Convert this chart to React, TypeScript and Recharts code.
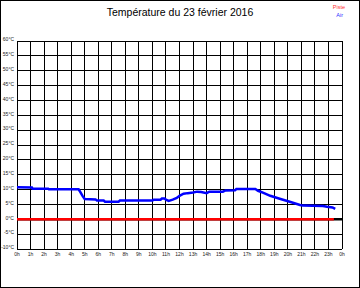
import { LineChart, Line, XAxis, YAxis, CartesianGrid, ReferenceLine, Legend } from 'recharts';

// heures (0-24) et température de l'air en °C
const airHours = [
    0, 1.1, 1.15, 2.3, 2.35, 4.55, 4.7, 4.85, 5.0, 5.8, 5.9, 6.4, 6.5, 7.5, 7.6, 10.0, 10.1, 10.6, 10.7, 10.9,
    11.0, 11.2, 11.5, 11.8, 12.0, 12.3, 12.6, 13.0, 13.3, 13.6, 14.0, 14.2, 15.2, 15.4, 16.1, 16.2, 17.6, 17.8,
    18.2, 18.7, 19.4, 20.2, 20.9, 21.1, 22.6, 22.9, 23.3, 23.5,
];
const airTemps = [
    10.8, 10.7, 10.3, 10.3, 10.1, 10.1, 9.0, 7.8, 6.8, 6.7, 6.35, 6.3, 5.9, 5.9, 6.3, 6.3, 6.6, 6.6, 7.0, 7.0,
    6.6, 6.2, 6.6, 7.2, 7.9, 8.6, 8.8, 9.0, 9.3, 9.2, 8.8, 9.3, 9.3, 9.7, 9.8, 10.2, 10.2, 9.6,
    8.9, 7.9, 6.9, 5.8, 4.8, 4.6, 4.5, 4.2, 4.0, 3.5,
];

// température de la piste
const pisteHours = [0, 23.4];
const pisteTemps = [0, 0];

const hourTicks = [0, 1, 2, 3, 4, 5, 6, 7, 8, 9, 10, 11, 12, 13, 14, 15, 16, 17, 18, 19, 20, 21, 22, 23, 24];
const tempTicks = [-10, -5, 0, 5, 10, 15, 20, 25, 30, 35, 40, 45, 50, 55, 60];

const airData = airHours.map((h, i) => ({ h, t: airTemps[i] }));
const pisteData = pisteHours.map((h, i) => ({ h, t: pisteTemps[i] }));

const font = '"Liberation Sans", Arial, sans-serif';

function LegendBox() {
    return (
        <div style={{ fontFamily: font, fontSize: 5.5, lineHeight: '8px', textAlign: 'right' }}>
            <div style={{ color: '#ff3030' }}>Piste</div>
            <div style={{ color: '#3030ff', paddingRight: 2 }}>Air</div>
        </div>
    );
}

export default function App() {
    return (
        <div style={{ position: 'absolute', left: 0, top: 0, width: 360, height: 288, background: '#fff' }}>
            <style>{'.recharts-cartesian-grid line { shape-rendering: crispEdges; }'}</style>
            <div
                style={{
                    position: 'absolute',
                    left: 0,
                    top: 6,
                    width: 360,
                    textAlign: 'center',
                    fontFamily: font,
                    fontSize: 10.5,
                    color: '#000',
                }}
            >
                Température du 23 février 2016
            </div>
            <LineChart width={360} height={288} margin={{ top: 25, right: 18, left: 0, bottom: 0 }}>
                <CartesianGrid stroke="#000" strokeWidth={1} />
                <XAxis
                    type="number"
                    dataKey="h"
                    domain={[0, 24]}
                    ticks={hourTicks}
                    interval={0}
                    height={39}
                    axisLine={false}
                    tickLine={false}
                    tickSize={0}
                    tickMargin={3}
                    tickFormatter={(v: number) => `${v % 24}h`}
                    tick={{ fill: '#222', fontSize: 5, fontFamily: font }}
                />
                <YAxis
                    type="number"
                    domain={[-10, 60]}
                    ticks={tempTicks}
                    interval={0}
                    width={17}
                    axisLine={false}
                    tickLine={false}
                    tickSize={0}
                    tickMargin={3}
                    tickFormatter={(v: number) => `${v}°C`}
                    tick={{ fill: '#222', fontSize: 5, fontFamily: font, dy: -1.5 }}
                />
                <ReferenceLine y={0} stroke="#000" strokeWidth={2.5} />
                <Legend verticalAlign="top" align="right" wrapperStyle={{ top: 3, right: 15, width: 'auto' }} content={() => <LegendBox />} />
                <Line
                    data={pisteData}
                    dataKey="t"
                    name="Piste"
                    stroke="#ff0000"
                    strokeWidth={2.5}
                    dot={false}
                    isAnimationActive={false}
                />
                <Line
                    data={airData}
                    dataKey="t"
                    name="Air"
                    stroke="#0000ff"
                    strokeWidth={2.5}
                    dot={false}
                    isAnimationActive={false}
                />
            </LineChart>
            <div
                style={{
                    position: 'absolute',
                    left: 0,
                    top: 0,
                    width: 360,
                    height: 288,
                    boxSizing: 'border-box',
                    border: '1px solid #000',
                    pointerEvents: 'none',
                }}
            />
        </div>
    );
}
